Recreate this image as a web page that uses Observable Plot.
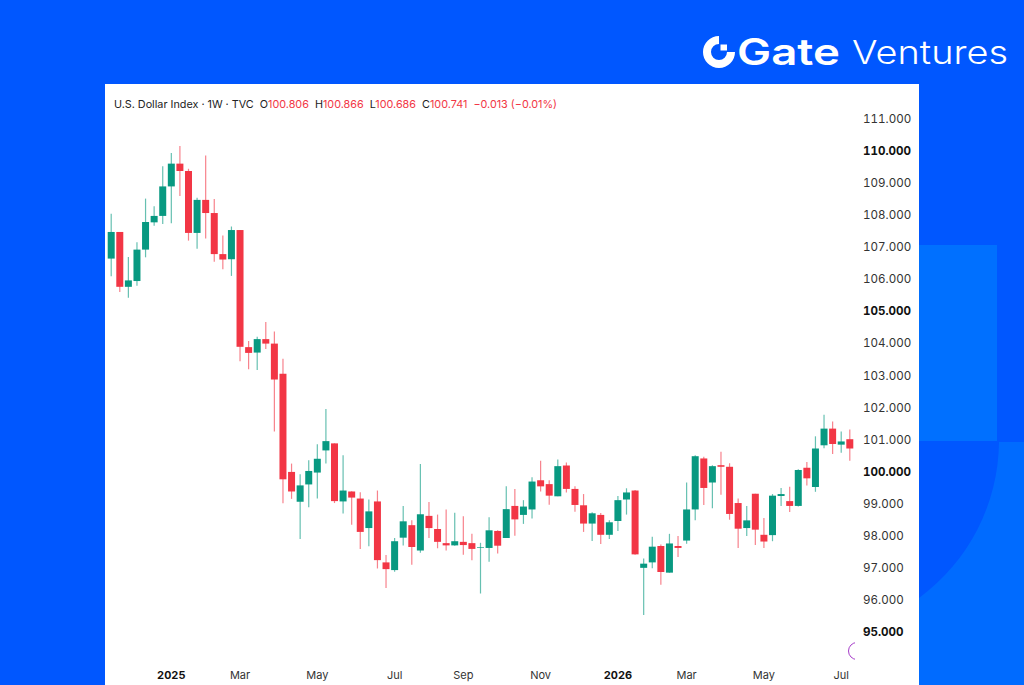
<!DOCTYPE html>
<html>
<head>
<meta charset="utf-8">
<script src="https://cdn.jsdelivr.net/npm/d3@7"></script>
<script src="https://cdn.jsdelivr.net/npm/@observablehq/plot@0.6"></script>
<style>
  html, body { margin: 0; padding: 0; width: 1024px; height: 685px; overflow: hidden; background: #0057ff; }
  #bg { position: absolute; left: 0; top: 0; }
  #panel { position: absolute; left: 105px; top: 84px; width: 814px; height: 601px; background: #fff; }
  #chart { position: absolute; left: 105px; top: 84px; }
  #chart svg { display: block; background: transparent; }
  #head { position: absolute; left: 114px; top: 97.5px; font: 400 10.8px/14px Inter, sans-serif; color: #222; white-space: pre; }
  #head b { font-weight: 400; color: #f23645; }
  #edge { position: absolute; left: 845px; top: 640px; width: 10px; height: 22px; overflow: hidden; }
  #edge i { display: block; position: absolute; left: 3px; top: 1.5px; width: 16px; height: 16px; border: 1.4px solid #a63dc9; border-radius: 50%; }
</style>
</head>
<body>
<svg id="bg" width="1024" height="685" viewBox="0 0 1024 685">
  <rect x="919" y="245" width="78" height="196" fill="#0070ff"/>
  <path d="M919 442H1024V685H919V598A196 196 0 0 0 999 442Z" fill="#006bff"/>
  <path fill="#fff" fill-rule="evenodd" d="M719 36A16 16 0 1 0 735 52H727A8 8 0 1 1 719 44Z"/>
  <rect x="720.5" y="44.5" width="6.5" height="6" fill="#fff"/>
  <text x="737" y="65" font-family="Inter, sans-serif" font-weight="600" font-size="37" fill="#fff" textLength="103" lengthAdjust="spacingAndGlyphs">Gate</text>
  <text x="852" y="64" font-family="Inter, sans-serif" font-weight="300" font-size="33" fill="#fff" textLength="156" lengthAdjust="spacingAndGlyphs">Ventures</text>
</svg>
<div id="panel"></div>
<div id="chart"></div>
<div id="head">U.S. Dollar Index · 1W · TVC  O<b>100.806</b>  H<b>100.866</b>  L<b>100.686</b>  C<b>100.741</b>  <b>−0.013 (−0.01%)</b></div>
<div id="edge"><i></i></div>
<script>
const firstWeek = "2024-11-18";
const opens = [106.64,107.47,105.76,105.94,106.92,107.77,107.97,108.89,109.60,109.37,107.44,108.47,108.06,106.78,106.62,107.53,
  103.88,103.71,104.13,103.99,103.05,99.99,99.06,99.60,99.97,100.66,100.88,99.07,99.38,99.16,98.24,99.07,97.17,96.93,97.94,98.33,
  97.54,98.62,98.21,97.77,97.70,97.81,97.77,97.62,97.62,98.15,97.93,98.93,98.65,98.82,99.73,99.61,99.23,100.19,99.46,98.95,98.38,98.65,98.03,98.46,99.13,99.41,
  97.00,97.17,97.68,96.85,97.68,97.85,98.82,100.41,99.66,100.20,100.15,99.02,98.24,99.31,98.03,98.02,99.24,99.08,98.93,100.12,99.52,100.82,101.34,100.84,101.01];
const highs = [108.04,107.47,106.69,107.15,108.51,108.27,109.52,109.93,110.15,109.44,108.54,109.85,108.50,107.36,107.64,107.53,
  104.07,104.20,104.66,104.37,103.52,100.25,99.92,100.35,100.85,101.95,100.88,100.51,99.39,99.36,99.13,99.41,97.40,97.93,98.93,98.48,
  100.24,99.05,98.66,98.82,98.72,98.61,98.06,97.78,98.58,98.17,99.54,99.46,99.11,99.82,100.34,99.73,100.38,100.28,99.54,99.30,98.73,98.71,98.48,99.24,99.48,99.43,
  97.29,97.97,97.73,98.06,97.99,99.66,100.51,100.46,100.20,100.62,100.26,99.16,98.93,99.31,98.55,99.30,99.49,99.53,100.07,100.30,101.10,101.77,101.56,101.25,101.31];
const lows = [106.09,105.60,105.42,105.79,106.68,107.66,107.72,107.74,108.59,107.20,106.95,107.27,106.54,106.31,106.10,103.44,
  103.19,103.17,103.82,101.25,99.01,99.15,97.90,98.89,99.16,100.25,99.02,98.69,98.34,97.59,97.67,96.98,96.37,96.88,97.70,97.10,
  97.47,97.93,97.61,97.54,97.69,97.41,97.24,96.20,97.19,97.45,97.93,98.00,98.37,98.54,99.38,98.97,99.23,99.35,98.75,98.12,97.84,97.74,97.90,98.15,98.66,97.41,
  95.53,96.99,96.47,96.85,97.34,97.75,98.48,98.96,98.86,99.28,98.50,97.62,97.99,97.71,97.62,97.83,98.93,98.74,98.91,99.57,99.37,100.73,100.55,100.59,100.34];
const closes = [107.47,105.76,105.96,106.92,107.78,107.97,108.89,109.60,109.37,107.44,108.47,108.06,106.78,106.61,107.53,103.89,
  103.70,104.13,103.99,102.87,99.76,99.38,99.57,100.02,100.40,100.95,99.08,99.41,99.19,98.12,98.76,97.24,96.96,97.83,98.45,97.65,
  98.67,98.24,97.81,97.70,97.83,97.71,97.59,97.64,98.17,97.69,98.83,98.51,98.91,99.69,99.54,99.25,100.17,99.46,98.96,98.38,98.70,98.03,98.42,99.11,99.35,97.42,
  97.13,97.66,96.87,97.76,97.62,98.82,100.48,99.49,100.17,100.15,98.68,98.22,98.48,98.19,97.82,99.25,99.30,98.93,100.05,99.79,100.72,101.34,100.86,100.94,100.72];

const regularPrices = [111,109,108,107,106,104,103,102,101,99,98,97,96];
const boldPrices = [110,105,100,95];
const regularMonths = [["2025-03-03","Mar"],["2025-05-05","May"],["2025-07-07","Jul"],["2025-09-01","Sep"],["2025-11-03","Nov"],["2026-03-02","Mar"],["2026-05-04","May"],["2026-07-06","Jul"]];
const boldYears = [["2025-01-06","2025"],["2026-01-05","2026"]];

const utc = s => new Date(s + "T00:00:00Z");
const start = utc(firstWeek);
const WEEK = 7 * 24 * 3600 * 1000;
const candles = opens.map((o, i) => ({
  date: new Date(+start + i * WEEK), open: o, high: highs[i], low: lows[i], close: closes[i]
}));
const colorOf = d => d.close >= d.open ? "#089981" : "#f23645";
const axisFont = {fontFamily: "Inter, sans-serif", fontSize: 11.6};

function monthAxis(list, weight, fill) {
  const map = new Map(list.map(([d, t]) => [+utc(d), t]));
  return Plot.axisX(list.map(([d]) => utc(d)), {
    anchor: "bottom", tickSize: 0, tickPadding: 4, label: null,
    tickFormat: d => map.get(+d), fontWeight: weight, fill,
    fontFamily: "Inter, sans-serif", fontSize: 11
  });
}

const chart = Plot.plot({
  width: 814, height: 601,
  marginTop: 0, marginRight: 56.5, marginLeft: 0, marginBottom: 18,
  style: {background: "transparent", overflow: "visible"},
  x: {type: "utc", domain: [start, new Date(+start + 86 * WEEK)], range: [5.7, 744.3]},
  y: {domain: [95, 110], range: [548, 66.8]},
  marks: [
    Plot.ruleX(candles, {x: "date", y1: "low", y2: "high", stroke: colorOf, strokeWidth: 1.2, strokeOpacity: 0.62}),
    Plot.ruleX(candles, {x: "date", y1: "open", y2: "close", stroke: colorOf, strokeWidth: 7}),
    Plot.axisY(regularPrices, {anchor: "right", tickSize: 0, tickPadding: 0, textAnchor: "start", label: null,
      tickFormat: d => d.toFixed(3), fill: "#333", ...axisFont}),
    Plot.axisY(boldPrices, {anchor: "right", tickSize: 0, tickPadding: 0, textAnchor: "start", label: null,
      tickFormat: d => d.toFixed(3), fill: "#111", fontWeight: 700, ...axisFont}),
    monthAxis(regularMonths, 400, "#333"),
    monthAxis(boldYears, 700, "#111")
  ]
});
document.getElementById("chart").appendChild(chart);
</script>
</body>
</html>
